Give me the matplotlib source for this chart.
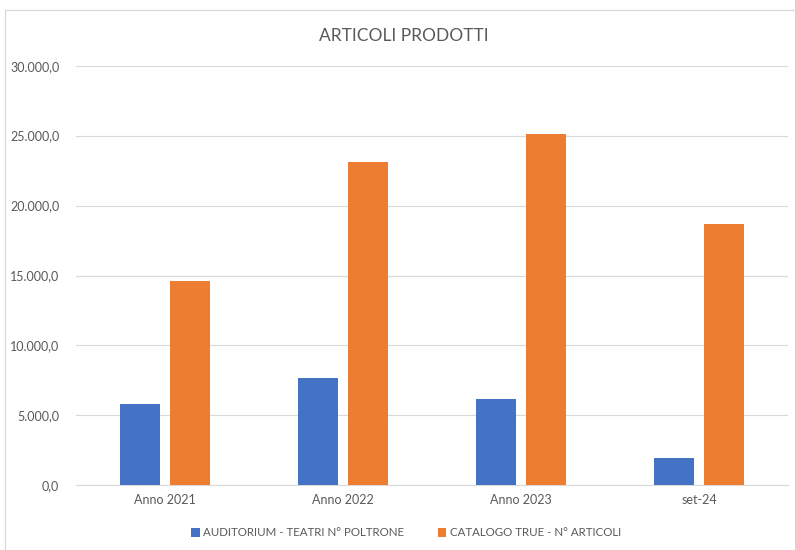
import matplotlib
matplotlib.use("Agg")
import matplotlib.pyplot as plt
import numpy as np
from matplotlib.lines import Line2D

categories = ["Anno 2021", "Anno 2022", "Anno 2023", "set-24"]
auditorium = [5820, 7650, 6150, 1950]
catalogo = [14600, 23150, 25100, 18700]
series_names = ["AUDITORIUM - TEATRI N° POLTRONE", "CATALOGO TRUE - N° ARTICOLI"]
yticks = [0, 5000, 10000, 15000, 20000, 25000, 30000]

plt.rcParams['font.family'] = ['Lato', 'DejaVu Sans']
txt = '#595959'

W, H = 795, 550
fig = plt.figure(figsize=(W / 100, H / 100), dpi=100)
ax = fig.add_axes([76 / W, 1 - 485.3 / H, 712 / W, (485.3 - 65.7) / H])

x = np.arange(len(categories))
w = 0.2247
off = 0.1404
ax.bar(x - off, auditorium, w, color='#4472C4', label=series_names[0], zorder=3)
ax.bar(x + off, catalogo, w, color='#ED7D31', label=series_names[1], zorder=3)

ax.set_xlim(-0.5, len(categories) - 0.5)
ax.set_ylim(0, 30000)
ax.set_yticks(yticks)
ax.set_yticklabels([f"{v:,.1f}".replace(",", "X").replace(".", ",").replace("X", ".") for v in yticks])
ax.set_xticks(x)
ax.set_xticklabels(categories)
ax.tick_params(axis='both', length=0, colors=txt, labelsize=9)
ax.tick_params(axis='y', pad=12)
ax.tick_params(axis='x', pad=6)
ax.grid(axis='y', color='#d9d9d9', linewidth=0.8, zorder=0)
for s in ['top', 'right', 'left']:
    ax.spines[s].set_visible(False)
ax.spines['bottom'].set_color('#d9d9d9')
ax.spines['bottom'].set_linewidth(0.8)

fig.text(0.508, 0.9345, "ARTICOLI PRODOTTI", ha='center', va='center', fontsize=12.5, color=txt)

leg = fig.legend(loc='center', bbox_to_anchor=(406 / W, 1 - 533 / H), ncol=2, frameon=False,
                 fontsize=8.3, handlelength=0.75, handleheight=0.75, handletextpad=0.3,
                 columnspacing=2.9, labelcolor=txt)

# chart-area border (only top and left visible, as in the reference)
fig.add_artist(Line2D([5 / W, 1.0], [1 - 10 / H, 1 - 10 / H], transform=fig.transFigure,
                      color='#d9d9d9', linewidth=0.9))
fig.add_artist(Line2D([5 / W, 5 / W], [0.0, 1 - 10 / H], transform=fig.transFigure,
                      color='#d9d9d9', linewidth=0.9))

fig.savefig("out.png", dpi=100)
